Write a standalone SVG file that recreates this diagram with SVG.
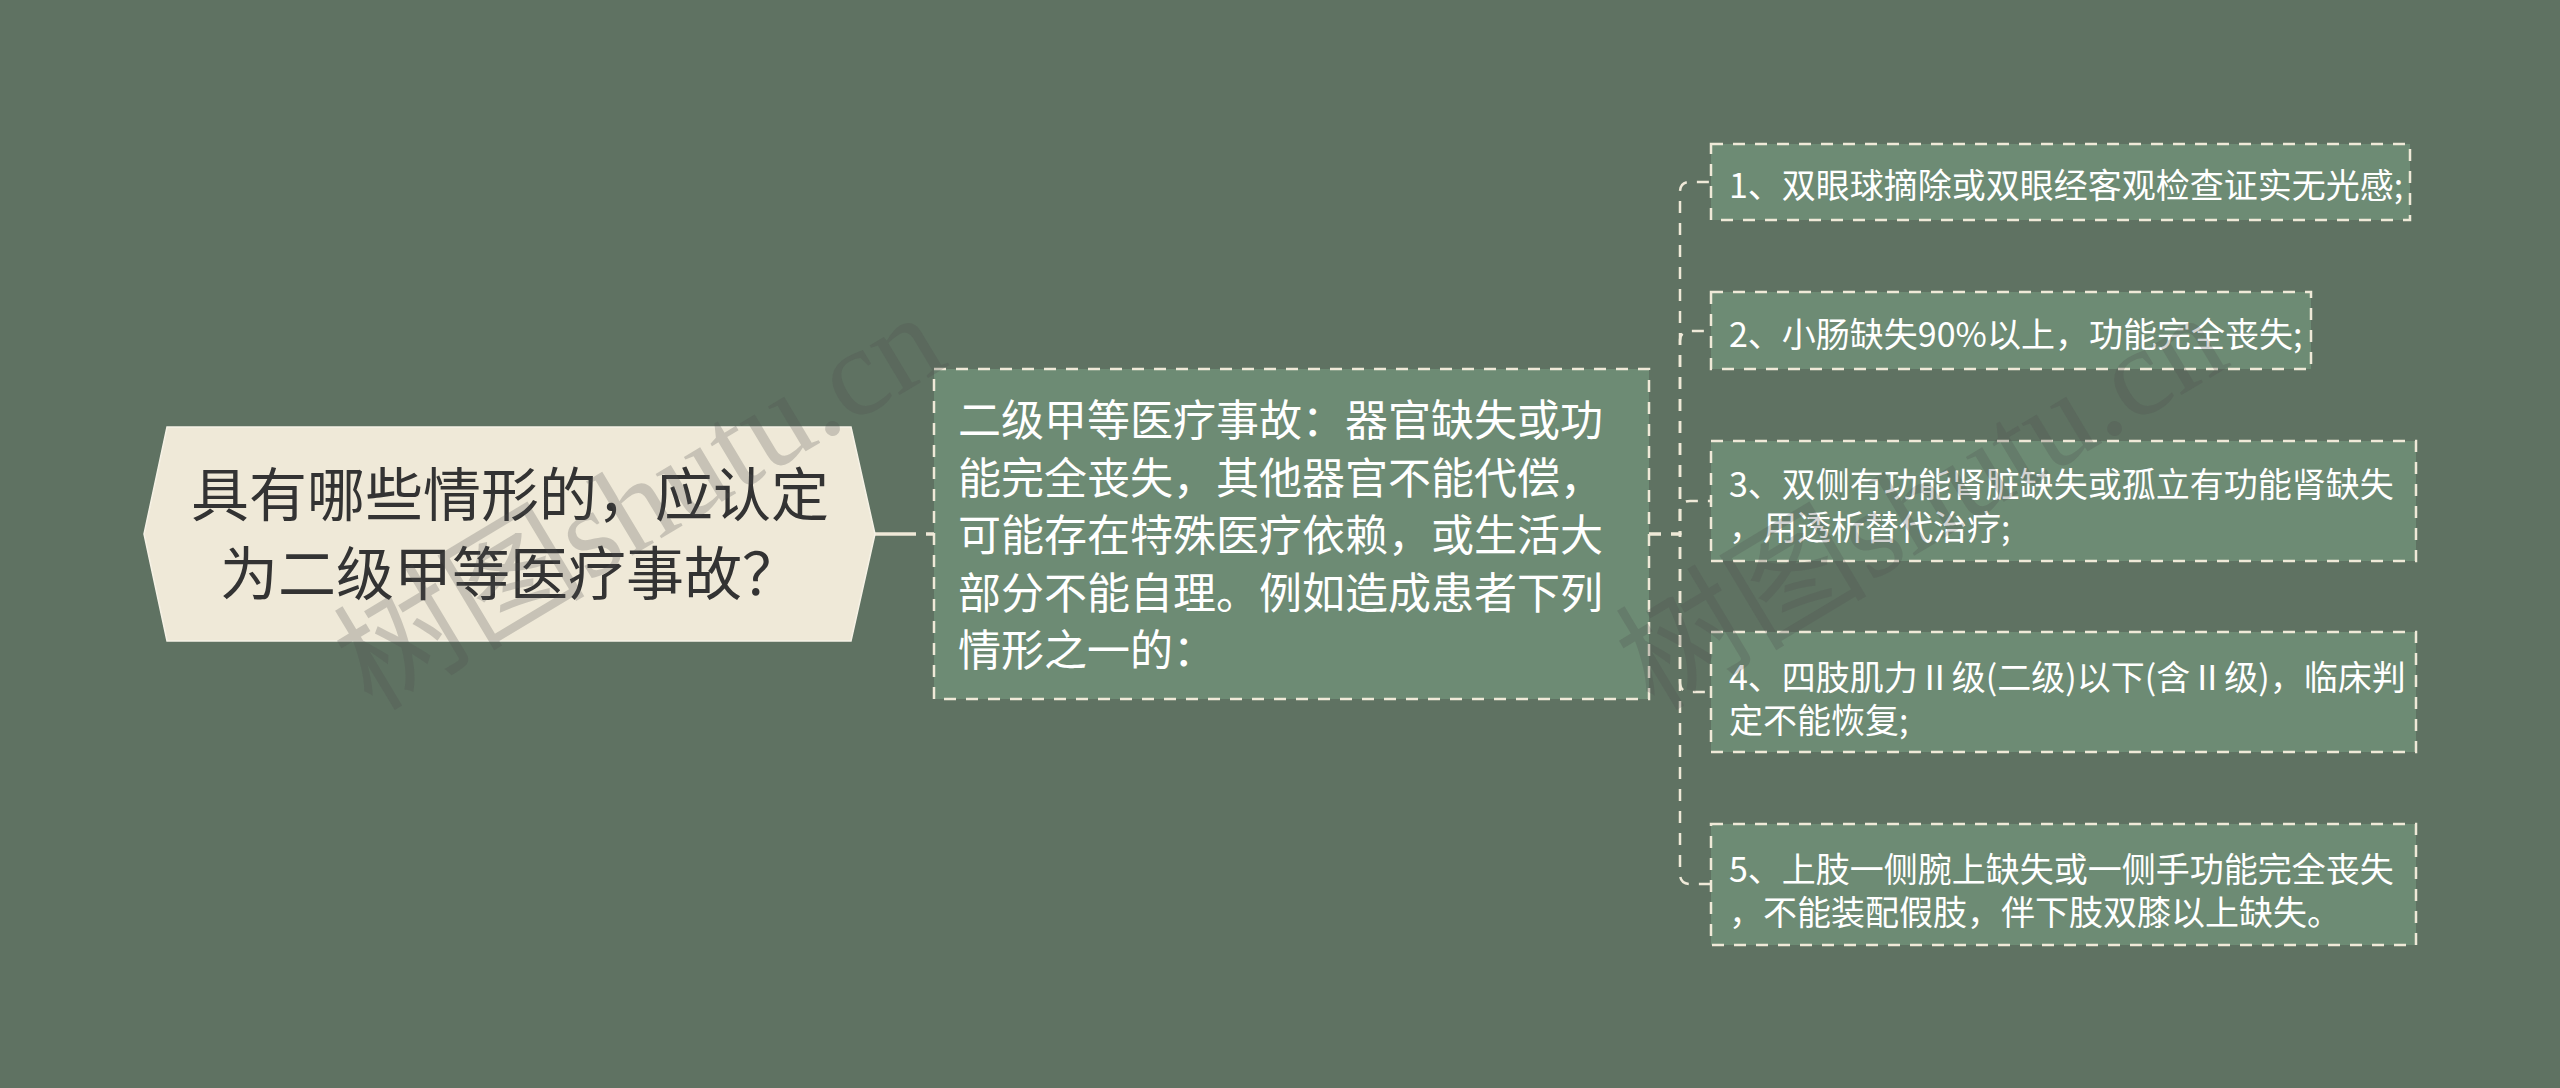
<svg xmlns="http://www.w3.org/2000/svg" width="2560" height="1088" viewBox="0 0 2560 1088">
<defs>
<style>
.bg{fill:#5f7262}
.root-shape{fill:#efe9d8;stroke:#f6f2e6;stroke-width:1.5}
.root-text{font-family:"Noto Sans CJK SC","Noto Sans",sans-serif;font-size:58px;fill:#333333;text-anchor:middle}
.box{fill:#6d8b74;stroke:#efe9d8;stroke-width:2.5;stroke-dasharray:12 10}
.mid-text{font-family:"Noto Sans CJK SC","Noto Sans",sans-serif;font-size:43px;fill:#ffffff}
.leaf-text{font-family:"Noto Sans CJK SC","Noto Sans",sans-serif;font-size:34px;fill:#ffffff}
.conn{fill:none;stroke:#efe9d8;stroke-width:2.5;stroke-dasharray:12 10}
.conn-solid{fill:none;stroke:#efe9d8;stroke-width:3.5}
.wm{font-family:"Liberation Serif","Noto Sans CJK SC",serif;font-size:126px;fill:#505050;fill-opacity:0.25}
</style>
</defs>
<rect class="bg" x="0" y="0" width="2560" height="1088"/>

<g id="connectors">
<line class="conn-solid" x1="875" y1="534" x2="916" y2="534"/>
<line class="conn-solid" x1="926" y1="534" x2="934" y2="534"/>
<path class="conn" d="M1649 534 H1680 V192 Q1680 182 1690 182 H1711"/>
<path class="conn" d="M1649 534 H1680 V341 Q1680 331 1690 331 H1711"/>
<path class="conn" d="M1649 534 H1680 V511 Q1680 501 1690 501 H1711"/>
<path class="conn" d="M1649 534 H1680 V682 Q1680 692 1690 692 H1711"/>
<path class="conn" d="M1649 534 H1680 V874 Q1680 884 1690 884 H1711"/>
</g>

<g id="root">
<polygon class="root-shape" points="167,427 851,427 875,534 851,641 167,641 144,534"/>
<text class="root-text" x="510" y="516">具有哪些情形的，应认定</text>
<text class="root-text" x="510" y="595">为二级甲等医疗事故？</text>
</g>

<g id="middle">
<rect class="box" x="934" y="369" width="715" height="330"/>
<text class="mid-text" x="958" y="436">二级甲等医疗事故：器官缺失或功</text>
<text class="mid-text" x="958" y="493.5">能完全丧失，其他器官不能代偿，</text>
<text class="mid-text" x="958" y="551">可能存在特殊医疗依赖，或生活大</text>
<text class="mid-text" x="958" y="608.5">部分不能自理。例如造成患者下列</text>
<text class="mid-text" x="958" y="666">情形之一的：</text>
</g>

<g id="leaf1">
<rect class="box" x="1711" y="144" width="699" height="76"/>
<text class="leaf-text" x="1729" y="198">1、双眼球摘除或双眼经客观检查证实无光感;</text>
</g>

<g id="leaf2">
<rect class="box" x="1711" y="292" width="600" height="77"/>
<text class="leaf-text" x="1729" y="347">2、小肠缺失90%以上，功能完全丧失;</text>
</g>

<g id="leaf3">
<rect class="box" x="1711" y="441" width="705" height="120"/>
<text class="leaf-text" x="1729" y="497">3、双侧有功能肾脏缺失或孤立有功能肾缺失</text>
<text class="leaf-text" x="1729" y="540">，用透析替代治疗;</text>
</g>

<g id="leaf4">
<rect class="box" x="1711" y="632" width="705" height="120"/>
<text class="leaf-text" x="1729" y="690">4、四肢肌力Ⅱ级(二级)以下(含Ⅱ级)，临床判</text>
<text class="leaf-text" x="1729" y="733">定不能恢复;</text>
</g>

<g id="leaf5">
<rect class="box" x="1711" y="824" width="705" height="121"/>
<text class="leaf-text" x="1729" y="882">5、上肢一侧腕上缺失或一侧手功能完全丧失</text>
<text class="leaf-text" x="1729" y="925">，不能装配假肢，伴下肢双膝以上缺失。</text>
</g>

<g id="watermark">
<text class="wm" transform="translate(372,712) rotate(-31)">树图shutu.cn</text>
<text class="wm" transform="translate(1654,712) rotate(-31)">树图shutu.cn</text>
</g>
</svg>
